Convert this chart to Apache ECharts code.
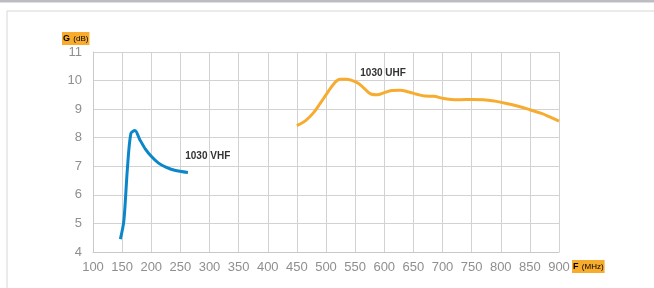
<!DOCTYPE html>
<html>
<head>
<meta charset="utf-8">
<script src="https://cdn.jsdelivr.net/npm/echarts@6/dist/echarts.min.js"></script>
<style>
  html, body { margin: 0; padding: 0; background: #fff; }
  #chart { width: 654px; height: 288px; }
</style>
</head>
<body>
<div id="chart"></div>
<script>
// frequency (MHz), gain (dB)
const vhfFreq = [147, 153, 159, 165, 172, 180, 190, 200, 212, 225, 240, 263];
const vhfGain = [4.45, 5.1, 6.9, 8.15, 8.25, 7.95, 7.6, 7.35, 7.12, 6.97, 6.86, 6.78];

const uhfFreq = [450, 465, 478, 490, 502, 514, 524, 535, 545, 556, 566, 577, 588, 600, 613, 627, 642, 656, 670, 685, 700, 715, 730, 750, 770, 790, 810, 830, 850, 870, 885, 900];
const uhfGain = [8.42, 8.6, 8.86, 9.2, 9.56, 9.9, 10.05, 10.05, 10.0, 9.9, 9.72, 9.53, 9.5, 9.58, 9.65, 9.66, 9.6, 9.52, 9.46, 9.45, 9.38, 9.34, 9.33, 9.34, 9.33, 9.28, 9.2, 9.1, 8.98, 8.85, 8.72, 8.58];

const xTicks = { min: 100, max: 900, step: 50 };
const yTicks = { min: 4, max: 11, step: 1 };

const vhfLabel = { name: '1030 VHF', at: [297, 7.34] };
const uhfLabel = { name: '1030 UHF', at: [598, 10.27] };

const chart = echarts.init(document.getElementById('chart'));

const pair = (xs, ys) => xs.map((x, i) => [x, ys[i]]);

const tagStyle = {
  fontFamily: "'Liberation Sans', Arial, sans-serif",
  fontWeight: 'bold',
  fontSize: 10,
  color: '#333'
};

const options = {
  animation: false,
  grid: { left: 93, right: 95, top: 52, bottom: 36 },
  xAxis: {
    type: 'value',
    min: xTicks.min, max: xTicks.max, interval: xTicks.step,
    axisLine: { show: true, lineStyle: { color: '#c9c9c9', width: 1 } },
    axisTick: { show: false },
    axisLabel: { color: '#8f8f8f', fontSize: 13, fontFamily: "'Liberation Sans', sans-serif", margin: 9 },
    splitLine: { show: true, lineStyle: { color: '#d2d2d2', width: 1 } }
  },
  yAxis: {
    type: 'value',
    min: yTicks.min, max: yTicks.max, interval: yTicks.step,
    axisLine: { show: true, lineStyle: { color: '#c9c9c9', width: 1 } },
    axisTick: { show: false },
    axisLabel: { color: '#8f8f8f', fontSize: 13, fontFamily: "'Liberation Sans', sans-serif", margin: 11 },
    splitLine: { show: true, lineStyle: { color: '#d2d2d2', width: 1 } }
  },
  series: [
    {
      type: 'line',
      data: pair(vhfFreq, vhfGain),
      smooth: 0.3,
      showSymbol: false,
      lineStyle: { color: '#0a87c9', width: 3 },
      markPoint: {
        symbol: 'circle', symbolSize: 0,
        label: { show: true, formatter: vhfLabel.name, ...tagStyle },
        data: [{ coord: vhfLabel.at }]
      }
    },
    {
      type: 'line',
      data: pair(uhfFreq, uhfGain),
      smooth: 0.4,
      showSymbol: false,
      lineStyle: { color: '#f7ac30', width: 3 },
      markPoint: {
        symbol: 'circle', symbolSize: 0,
        label: { show: true, formatter: uhfLabel.name, ...tagStyle },
        data: [{ coord: uhfLabel.at }]
      }
    }
  ],
  graphic: [
    { type: 'rect', left: 0, top: 0, shape: { width: 654, height: 2.5 }, style: { fill: '#bdbdc1' } },
    { type: 'rect', left: 4.5, top: 8.5, shape: { width: 700, height: 300 },
      style: { fill: 'none', stroke: '#d6d6d6', lineWidth: 1 } },
    { type: 'text', left: 62, top: 32,
      style: {
        text: '{a|G} {b|(dB)}',
        backgroundColor: '#f8ac2e', padding: [1, 1, 0, 1],
        rich: {
          a: { fontSize: 9, fontFamily: "'Liberation Sans', sans-serif", color: '#333', fontWeight: 'bold' },
          b: { fontSize: 8, fontFamily: "'Liberation Sans', sans-serif", color: '#7a6a50' }
        }
      } },
    { type: 'text', left: 572, top: 260,
      style: {
        text: '{a|F} {b|(MHz)}',
        backgroundColor: '#f8ac2e', padding: [1, 1, 0, 1],
        rich: {
          a: { fontSize: 9, fontFamily: "'Liberation Sans', sans-serif", color: '#333', fontWeight: 'bold' },
          b: { fontSize: 8, fontFamily: "'Liberation Sans', sans-serif", color: '#7a6a50' }
        }
      } }
  ]
};

chart.setOption(options);
</script>
</body>
</html>
